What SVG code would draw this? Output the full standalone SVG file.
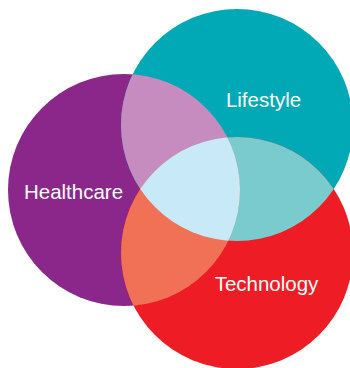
<svg xmlns="http://www.w3.org/2000/svg" width="350" height="368" viewBox="0 0 350 368">
  <style>
    .lbl { font-family: "Liberation Sans", Arial, sans-serif; font-size: 20.5px; fill: #ffffff; text-anchor: middle; }
  </style>
  <defs>
    <clipPath id="cP"><circle cx="124" cy="190" r="116"/></clipPath>
    <clipPath id="cT"><circle cx="237" cy="125" r="116"/></clipPath>
    <clipPath id="cR"><circle cx="237" cy="253" r="116"/></clipPath>
  </defs>
  <rect width="350" height="368" fill="#ffffff"/>
  <g id="healthcare">
    <circle cx="124" cy="190" r="116" fill="#8B278B"/>
  </g>
  <g id="lifestyle">
    <circle cx="237" cy="125" r="116" fill="#00A9B5"/>
  </g>
  <g id="technology">
    <circle cx="237" cy="253" r="116" fill="#EE1D25"/>
  </g>
  <g id="overlaps">
    <circle cx="237" cy="125" r="116" fill="#C68CBF" clip-path="url(#cP)"/>
    <circle cx="237" cy="253" r="116" fill="#7ACBCE" clip-path="url(#cT)"/>
    <circle cx="237" cy="253" r="116" fill="#F07155" clip-path="url(#cP)"/>
    <g clip-path="url(#cP)">
      <circle cx="237" cy="253" r="116" fill="#C8E9F8" clip-path="url(#cT)"/>
    </g>
  </g>
  <g id="labels">
    <text class="lbl" x="263.5" y="107">Lifestyle</text>
    <text class="lbl" x="73.5" y="199">Healthcare</text>
    <text class="lbl" x="266.5" y="291">Technology</text>
  </g>
</svg>
